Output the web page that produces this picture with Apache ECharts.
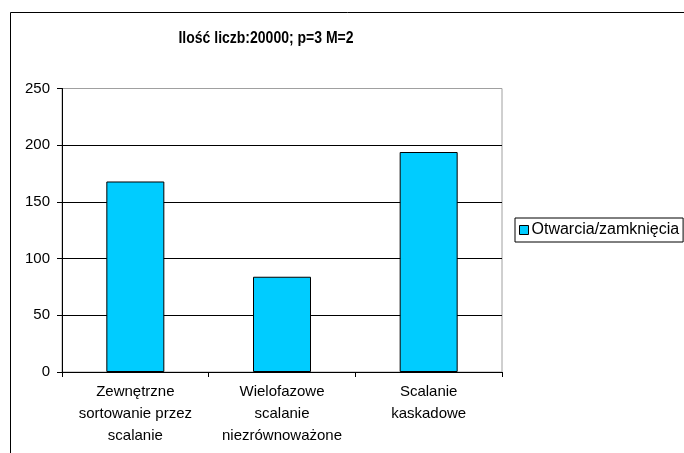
<!DOCTYPE html>
<html>
<head>
<meta charset="utf-8">
<script src="https://cdn.jsdelivr.net/npm/echarts@6/dist/echarts.min.js"></script>
<style>
  html, body { margin: 0; padding: 0; background: #fff; }
  #chart { width: 684px; height: 453px; }
</style>
</head>
<body>
<div id="chart"></div>
<script>
// Chart content
const chartTitle = 'Ilość liczb:20000; p=3 M=2';
const categories = [
  'Zewnętrzne\nsortowanie przez\nscalanie',
  'Wielofazowe\nscalanie\nniezrównoważone',
  'Scalanie\nkaskadowe'
];
const seriesName = 'Otwarcia/zamknięcia';
const seriesValues = [168, 84, 194];
const yTicks = { min: 0, max: 250, interval: 50 };

const FONT = '"Liberation Sans", Arial, sans-serif';

const chart = echarts.init(document.getElementById('chart'));
chart.setOption({
  backgroundColor: '#fff',
  animation: false,
  textStyle: { fontFamily: FONT },
  graphic: [
    {
      // outer chart-area frame
      type: 'rect',
      shape: { x: 10.5, y: 12.5, width: 900, height: 700 },
      style: { fill: 'none', stroke: '#000', lineWidth: 1 },
      silent: true,
      z: -10
    },
    {
      // title, slightly condensed bold
      type: 'text',
      x: 266,
      y: 39,
      scaleX: 0.875,
      silent: true,
      style: {
        text: chartTitle,
        font: 'bold 16px "Liberation Sans", Arial, sans-serif',
        fill: '#000',
        textAlign: 'center',
        textVerticalAlign: 'middle'
      }
    }
  ],
  legend: {
    left: 515,
    top: 218,
    orient: 'vertical',
    icon: 'rect',
    itemWidth: 9,
    itemHeight: 9,
    itemGap: 0,
    padding: [4, 4, 4, 4],
    borderColor: '#000',
    borderWidth: 1,
    textStyle: { fontFamily: FONT, fontSize: 16, color: '#000', padding: [0, 0, 0, -2] },
    itemStyle: { borderColor: '#000', borderWidth: 1 },
    data: [seriesName]
  },
  grid: {
    left: 62,
    top: 88.5,
    right: 182,
    bottom: 81,
    show: true,
    backgroundColor: '#fff',
    borderColor: '#A0A0A0',
    borderWidth: 1
  },
  xAxis: {
    type: 'category',
    data: categories,
    boundaryGap: true,
    axisLine: { show: true, lineStyle: { color: '#000', width: 1 } },
    axisTick: { show: true, length: 5, lineStyle: { color: '#000' } },
    axisLabel: {
      color: '#000',
      fontFamily: FONT,
      fontSize: 15,
      lineHeight: 22,
      margin: 9,
      interval: 0
    },
    splitLine: { show: false }
  },
  yAxis: {
    type: 'value',
    min: yTicks.min,
    max: yTicks.max,
    interval: yTicks.interval,
    axisLine: { show: true, lineStyle: { color: '#000', width: 1 } },
    axisTick: { show: true, length: 5, lineStyle: { color: '#000' } },
    axisLabel: { color: '#000', fontFamily: FONT, fontSize: 15, margin: 12 },
    splitLine: {
      show: true,
      lineStyle: { color: ['#000', '#000', '#000', '#000', '#000', '#A0A0A0'], width: 1 }
    }
  },
  series: [{
    name: seriesName,
    type: 'bar',
    data: seriesValues,
    barWidth: 58,
    itemStyle: { color: '#00CCFF', borderColor: '#000', borderWidth: 1 }
  }]
});
</script>
</body>
</html>
